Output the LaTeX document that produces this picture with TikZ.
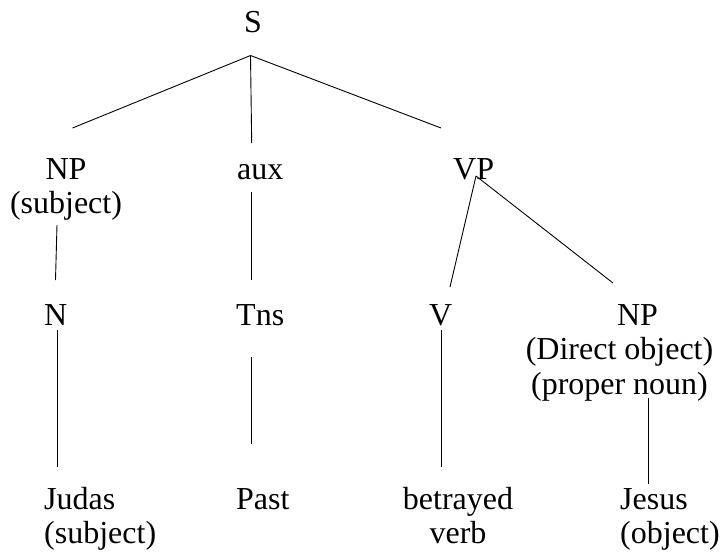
\documentclass[tikz,border=0pt]{standalone}
\usepackage{fontspec}
\setmainfont{Liberation Serif}
\tikzset{
	lbl/.style={inner sep=0pt, anchor=base west, font=\fontsize{32}{34.5}\selectfont},
	branch/.style={line width=0.9pt}
}
\begin{document}
\begin{tikzpicture}[x=1pt, y=-1pt]
	\useasboundingbox (0, 0) rectangle (725, 558);

		 	\node[lbl] (s) at(244, 32){S};

		 	\node[lbl, anchor=base, align=center] (subjNP) at(66, 213.5){NP\\(subject)};
		 	\node[lbl] (aux) at(237, 179){aux};
		 	\node[lbl] (vp) at(453, 179){VP};

		 	\node[lbl] (n) at(44, 325){N};
		 	\node[lbl] (tns) at(236, 325){Tns};
		 	\node[lbl] (v) at(429, 325){V};
		 	\node[lbl, anchor=base, align=center] (objNP) at(619.5, 394){\hspace*{36pt}NP\\(Direct object)\\(proper noun)};

		 	\node[lbl, align=left] (judas) at(44, 543.5){Judas\\(subject)};
		 	\node[lbl] (past) at(236, 509){Past};
		 	\node[lbl, anchor=base, align=center] (betrayed) at(458, 543.5){betrayed\\verb};
		 	\node[lbl, align=left] (jesus) at(620, 543.5){Jesus\\(object)};

		 	% line ends
		 	\coordinate (sTop) at(250.5, 55.5);
		 	\coordinate (sLeft) at(72.5, 128);
		 	\coordinate (sMid) at(251.7, 143);
		 	\coordinate (sRight) at(441, 128);
		 	\coordinate (npTop) at(57, 225);
		 	\coordinate (npBot) at(55.5, 280);
		 	\coordinate (auxTop) at(251.7, 192);
		 	\coordinate (auxBot) at(251.7, 280);
		 	\coordinate (vpTop) at(476, 176);
		 	\coordinate (vpLeft) at(450, 287);
		 	\coordinate (vpRight) at(613, 283);
		 	\coordinate (nTop) at(57, 330);
		 	\coordinate (nBot) at(57, 467);
		 	\coordinate (tnsTop) at(251.7, 357);
		 	\coordinate (tnsBot) at(251.7, 444);
		 	\coordinate (vTop) at(441, 330);
		 	\coordinate (vBot) at(441, 467);
		 	\coordinate (objTop) at(648, 398);
		 	\coordinate (objBot) at(648, 484);

		 	\draw[branch](sTop) to (sLeft);
		 	\draw[branch](sTop) to (sMid);
		 	\draw[branch](sTop) to (sRight);
		 		\draw[branch](npTop) to (npBot);
		 		\draw[branch](auxTop) to (auxBot);
		 		\draw[branch](vpTop) to (vpLeft);
		 		\draw[branch](vpTop) to (vpRight);
		 	\draw[branch](nTop) to (nBot);
		 	\draw[branch](tnsTop) to (tnsBot);
		 	\draw[branch](vTop) to (vBot);
		 	\draw[branch](objTop) to (objBot);

\end{tikzpicture}
\end{document}
